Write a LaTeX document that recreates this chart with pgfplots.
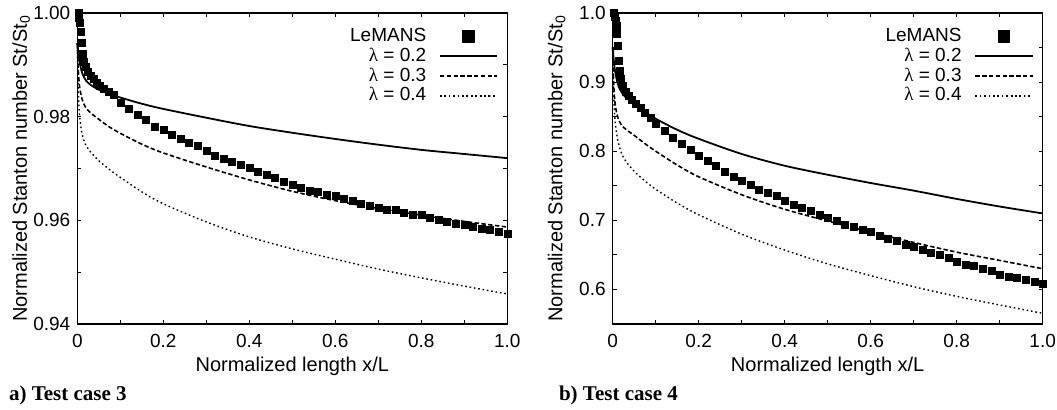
\documentclass[border=0pt]{standalone}
\usepackage{pgfplots}
\pgfplotsset{compat=1.18}
\usepackage{fontspec}
\setmainfont{Liberation Sans}
\newfontfamily\serifcap{Liberation Serif}

% ---- test case 3 ----
\pgfplotstableread{
x y
0     0.9942
0.002 0.9928
0.005 0.9908
0.01  0.9888
0.015 0.9877
0.02  0.9870
0.03  0.9862
0.05  0.9852
0.075 0.9844
0.1   0.9837
0.15  0.9825
0.2   0.9815
0.3   0.9798
0.4   0.9782
0.5   0.9769
0.6   0.9757
0.7   0.9746
0.8   0.9736
0.9   0.9728
1.0   0.9720
}\aLtwo
\pgfplotstableread{
x y
0     0.9942
0.002 0.9895
0.005 0.9860
0.01  0.9837
0.015 0.9825
0.02  0.9817
0.03  0.9808
0.05  0.9795
0.075 0.9780
0.1   0.9768
0.15  0.9747
0.2   0.9730
0.3   0.9703
0.4   0.9678
0.5   0.9656
0.6   0.9638
0.7   0.9623
0.8   0.9610
0.9   0.9598
1.0   0.9587
}\aLthree
\pgfplotstableread{
x y
0     0.9942
0.002 0.9860
0.005 0.9805
0.01  0.9772
0.015 0.9755
0.02  0.9745
0.03  0.9733
0.05  0.9715
0.075 0.9698
0.1   0.9683
0.15  0.9655
0.2   0.9632
0.3   0.9597
0.4   0.9568
0.5   0.9545
0.6   0.9525
0.7   0.9506
0.8   0.9489
0.9   0.9473
1.0   0.9458
}\aLfour
\pgfplotstableread{
x y
0.002 1.0000
0.004 0.9991
0.006 0.9981
0.008 0.9965
0.010 0.9942
0.012 0.9921
0.015 0.9906
0.019 0.9896
0.024 0.9887
0.030 0.9880
0.037 0.9873
0.045 0.9866
0.053 0.9860
0.062 0.9854
0.072 0.9848
0.084 0.9842
0.10 0.98267
0.12 0.98152
0.14 0.98043
0.16 0.97947
0.18 0.97818
0.20 0.97754
0.22 0.97645
0.24 0.97574
0.26 0.97497
0.28 0.97433
0.30 0.97337
0.32 0.97253
0.34 0.97189
0.36 0.97132
0.38 0.97067
0.40 0.97016
0.42 0.96939
0.44 0.96888
0.46 0.96824
0.48 0.96740
0.50 0.96695
0.52 0.96631
0.54 0.96580
0.56 0.96548
0.58 0.96503
0.60 0.96471
0.62 0.96419
0.64 0.96374
0.66 0.96329
0.68 0.96278
0.70 0.96246
0.72 0.96214
0.74 0.96201
0.76 0.96150
0.78 0.96118
0.80 0.96105
0.82 0.96054
0.84 0.96022
0.86 0.95977
0.88 0.95945
0.90 0.95925
0.92 0.95880
0.94 0.95842
0.96 0.95816
0.98 0.95784
1.00 0.95745
}\aLemans

% ---- test case 4 ----
\pgfplotstableread{
x y
0     0.951
0.002 0.935
0.005 0.918
0.01  0.902
0.015 0.892
0.02  0.886
0.03  0.878
0.05  0.868
0.075 0.857
0.1   0.847
0.15  0.831
0.2   0.818
0.3   0.796
0.4   0.779
0.5   0.766
0.6   0.754
0.7   0.743
0.8   0.731
0.9   0.720
1.0   0.710
}\bLtwo
\pgfplotstableread{
x y
0     0.951
0.002 0.903
0.005 0.872
0.01  0.853
0.015 0.844
0.02  0.838
0.03  0.832
0.05  0.823
0.075 0.811
0.1   0.800
0.15  0.780
0.2   0.763
0.3   0.737
0.4   0.716
0.5   0.699
0.6   0.683
0.7   0.668
0.8   0.654
0.9   0.642
1.0   0.630
}\bLthree
\pgfplotstableread{
x y
0     0.951
0.002 0.885
0.005 0.848
0.01  0.822
0.015 0.808
0.02  0.798
0.03  0.786
0.05  0.771
0.075 0.757
0.1   0.745
0.15  0.725
0.2   0.708
0.3   0.680
0.4   0.657
0.5   0.637
0.6   0.620
0.7   0.604
0.8   0.590
0.9   0.5775
1.0   0.5655
}\bLfour
\pgfplotstableread{
x y
0.002 1.000
0.004 0.995
0.006 0.989
0.008 0.982
0.010 0.970
0.012 0.953
0.014 0.931
0.016 0.916
0.019 0.905
0.024 0.895
0.030 0.887
0.037 0.880
0.045 0.874
0.054 0.869
0.064 0.863
0.075 0.856
0.087 0.849
0.10 0.8406
0.12 0.8304
0.14 0.8198
0.16 0.8116
0.18 0.8029
0.20 0.7942
0.22 0.7860
0.24 0.7787
0.26 0.7705
0.28 0.7633
0.30 0.7570
0.32 0.7512
0.34 0.7449
0.36 0.7401
0.38 0.7353
0.40 0.7280
0.42 0.7232
0.44 0.7184
0.46 0.7135
0.48 0.7087
0.50 0.7039
0.52 0.6990
0.54 0.6942
0.56 0.6903
0.58 0.6870
0.60 0.6831
0.62 0.6783
0.64 0.6734
0.66 0.6700
0.68 0.6652
0.70 0.6618
0.72 0.6580
0.74 0.6531
0.76 0.6498
0.78 0.6459
0.80 0.6401
0.82 0.6362
0.84 0.6348
0.86 0.6304
0.88 0.6266
0.90 0.6217
0.92 0.6193
0.94 0.6169
0.96 0.6145
0.98 0.6111
1.00 0.6087
}\bLemans

\pgfplotsset{
  stanton/.style={
    width=215pt, height=155.5pt, scale only axis,
    anchor=south west,
    xmin=0, xmax=1,
    clip=false,
    axis line style={line width=0.6pt},
    tick style={black, line width=0.5pt},
    major tick length=2pt, minor tick length=2pt,
    tick pos=both, tick align=inside,
    xtick={0,0.2,0.4,0.6,0.8,1},
    minor xtick={0.1,0.3,0.5,0.7,0.9},
    xticklabels={0,0.2,0.4,0.6,0.8,1.0},
    ticklabel style={font=\fontsize{9.5}{11}\selectfont},
    xticklabel style={yshift=-1.5pt},
    label style={font=\fontsize{10}{12}\selectfont},
    xlabel={Normalized length x/L},
    ylabel={Normalized Stanton number St/St\textsubscript{0}},
    xlabel style={at={(axis description cs:0.5,-0.135)}, anchor=center},
    ylabel style={at={(axis description cs:-0.1302,0.5)}, anchor=center},
    legend cell align=right,
    legend plot pos=right,
    legend style={draw=none, fill=none, at={(1,1)}, anchor=north east,
      xshift=-4.5pt, yshift=-7pt, font=\fontsize{9.5}{11}\selectfont,
      inner sep=0pt, row sep=0.9pt, column sep=6.5pt,
      nodes={inner sep=0pt, text height=7pt, text depth=2pt}},
    legend image code/.code={\draw[mark repeat=2, mark phase=2, ##1]
      plot coordinates {(0cm,0cm) (0.5cm,0cm) (1cm,0cm)};},
  },
  ltwo/.style={black, line width=0.9pt},
  lthree/.style={black, line width=0.8pt, dash pattern=on 2.2pt off 1.2pt},
  lfour/.style={black, line width=0.7pt, dash pattern=on 0.8pt off 1.4pt},
  % LeMANS points; legend key is a larger square in the middle of a 1cm slot
  lemans/.style={only marks, mark=square*, mark size=1.75pt,
    mark options={black, line width=0.1pt},
    legend image code/.code={
      \path[draw=none] (0cm,0cm) -- (1cm,0cm);
      \fill[black] (0.5cm-2.9pt,-2.9pt) rectangle (0.5cm+2.9pt,2.9pt);}},
}
% LeMANS entry set in a box as wide as the lambda entries, right aligned
\newcommand\lemanstext{\hphantom{{\serifcap λ} = 0.2}\llap{LeMANS}}

\begin{document}
\begin{tikzpicture}
\path[use as bounding box] (0,0) rectangle (528.5pt,204.5pt);

\begin{axis}[stanton, at={(38.65pt,42.5pt)},
  ymin=0.94, ymax=1.0,
  ytick={0.94,0.96,0.98,1.0}, yticklabels={0.94,0.96,0.98,1.00},
  minor ytick={0.95,0.97,0.99}]
\addplot[lemans] table {\aLemans};
\addlegendentry{\lemanstext}
\addplot[ltwo, smooth] table {\aLtwo};
\addlegendentry{{\serifcap λ} = 0.2}
\addplot[lthree, smooth] table {\aLthree};
\addlegendentry{{\serifcap λ} = 0.3}
\addplot[lfour, smooth] table {\aLfour};
\addlegendentry{{\serifcap λ} = 0.4}
\end{axis}

\begin{axis}[stanton, at={(306.35pt,42.5pt)},
  ymin=0.55, ymax=1.0,
  ytick={0.6,0.7,0.8,0.9,1.0}, yticklabels={0.6,0.7,0.8,0.9,1.0},
  minor ytick={0.55,0.65,0.75,0.85,0.95}]
\addplot[lemans] table {\bLemans};
\addlegendentry{\lemanstext}
\addplot[ltwo, smooth] table {\bLtwo};
\addlegendentry{{\serifcap λ} = 0.2}
\addplot[lthree, smooth] table {\bLthree};
\addlegendentry{{\serifcap λ} = 0.3}
\addplot[lfour, smooth] table {\bLfour};
\addlegendentry{{\serifcap λ} = 0.4}
\end{axis}

\node[anchor=base west, font=\serifcap\bfseries\fontsize{10.5}{12}\selectfont]
  at (1pt,4.4pt) {a) Test case 3};
\node[anchor=base west, font=\serifcap\bfseries\fontsize{10.5}{12}\selectfont]
  at (276pt,4.4pt) {b) Test case 4};
\end{tikzpicture}
\end{document}
